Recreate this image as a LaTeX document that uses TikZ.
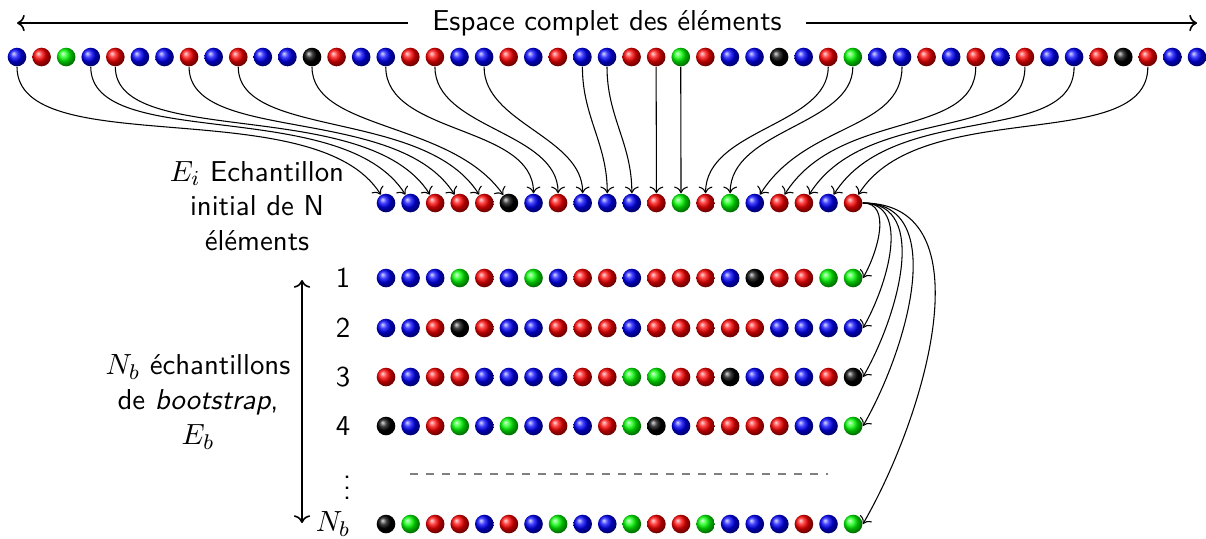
\documentclass[tikz,border=0pt]{standalone}
\usetikzlibrary{arrows.meta}
\begin{document}
\begin{tikzpicture}[x=0.375pt,y=-0.375pt,
  font=\sffamily\fontsize{10.8}{13}\selectfont,
  bille/.style={circle, inner sep=0pt, minimum size=6.98pt, ball color=#1},
  fleche/.style={->, line width=0.4pt},
  axe/.style={semithick},
  etiquette/.style={align=center, inner sep=0pt}]
\useasboundingbox (0,0) rectangle (1206,538);

% population complete
\foreach \c [count=\i] in {blue,red,green,blue,red,blue,blue,red,blue,red,blue,blue,black,red,blue,blue,red,red,blue,blue,red,blue,red,blue,blue,red,red,green,red,blue,blue,black,blue,red,green,blue,blue,red,blue,red,blue,red,blue,blue,red,black,red,blue,blue}
  \node[bille=\c] (t\i) at ({17+(\i-1)*24.5833},57) {};

% titre et fleche de l'espace complet
\node[inner sep=0pt] (espace) at (607,23) {Espace complet des \'el\'ements};
\coordinate (gauche) at (17,23);
\coordinate (droite) at (1197,23);
\draw[axe,->] ([xshift=-9pt]espace.west) -- (gauche);
\draw[axe,->] ([xshift=9pt]espace.east) -- (droite);

% echantillon initial
\foreach \c [count=\j] in {blue,blue,red,red,red,black,blue,red,blue,blue,blue,red,green,red,green,blue,red,red,blue,red}
  \node[bille=\c] (s\j) at ({386+(\j-1)*24.5833},203) {};

\node[etiquette] (lei) at (257,206) {$E_i$ Echantillon\\initial de N\\\'el\'ements};

% tirage des elements de l'echantillon initial
\foreach \s/\t/\a/\o/\i in {1/1/122/36/46, 4/2/122/32/44, 5/3/122/31/44, 8/4/122/29/40, 10/5/122/27/38, 13/6/125/24/34,
    34/14/90/22/24, 35/15/90/22/24, 37/16/58/24/32, 40/17/58/27/38, 42/18/58/29/40, 44/19/58/30/42, 47/20/58/33/44}
  \draw[fleche] (t\s) to[out=-90,in=\a,out distance=\o pt,in distance=\i pt] (s\t);
\foreach \s/\t/\l in {16/7/0.9, 18/8/0.9, 20/9/0.9, 24/10/1, 25/11/1, 27/12/1, 28/13/1}
  \draw[fleche] (t\s) to[out=-90,in=90,looseness=\l] (s\t);

% echantillons de bootstrap
\foreach \r/\y/\liste in {
  1/278/{blue,blue,blue,green,red,blue,green,blue,red,red,blue,red,red,red,blue,black,red,red,green,green},
  2/328/{blue,blue,red,black,red,blue,blue,red,red,red,blue,red,red,red,red,red,blue,blue,blue,blue},
  3/377/{red,blue,red,red,blue,blue,blue,blue,red,red,green,green,red,red,black,blue,red,blue,red,black},
  4/426/{black,blue,red,green,blue,green,blue,red,blue,red,green,black,blue,red,red,red,red,blue,blue,green},
  5/524/{black,green,red,red,blue,red,blue,green,blue,blue,green,red,red,green,blue,blue,blue,red,blue,green}}
{
  \foreach \c [count=\j] in \liste
    \node[bille=\c] (b\r-\j) at ({386+(\j-1)*24.5833},\y) {};
  \draw[fleche] (s20.east) to[out=0,in=60] (b\r-20.east);
}

% numeros des echantillons
\node (n1) at (343,278) {1};
\node (n2) at (343,328) {2};
\node (n3) at (343,377) {3};
\node (n4) at (343,426) {4};
\node (nv) at (347,480) {$\vdots$};
\node (nb) at (333,524) {$N_b$};

\coordinate (pointilleg) at (410,474);
\coordinate (pointilled) at (828,474);
\draw[semithick, gray, dashed] (pointilleg) -- (pointilled);

% axe des echantillons
\coordinate (haut) at (302,280);
\coordinate (bas) at (302,523);
\draw[axe,<->] (haut) -- (bas);

\node[etiquette] (leb) at (198,402) {$N_b$ \'echantillons\\de \emph{bootstrap},\\$E_b$};
\end{tikzpicture}
\end{document}
